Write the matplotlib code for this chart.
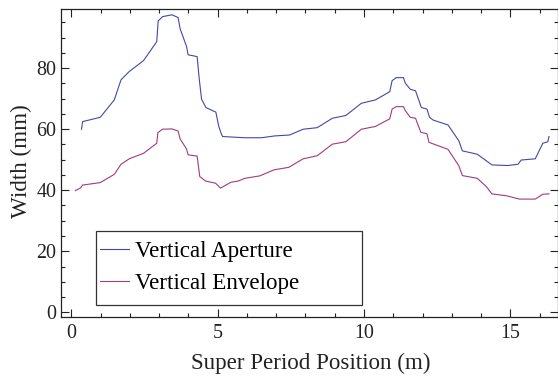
import matplotlib
matplotlib.use("Agg")
import matplotlib.pyplot as plt
from matplotlib.ticker import MultipleLocator
from matplotlib.patches import Rectangle

plt.rcParams['font.family'] = ['Liberation Serif', 'DejaVu Serif']

# Vertical aperture (mm) vs super period position (m)
ap_x = [0.35, 0.39, 0.99, 1.47, 1.70, 1.98, 2.47, 2.92, 2.97, 3.12, 3.44, 3.65, 3.72,
        3.94, 3.99, 4.30, 4.37, 4.45, 4.60, 4.94, 5.04, 5.13, 5.17, 5.93, 6.50, 6.95,
        7.46, 7.92, 8.40, 8.92, 9.38, 9.91, 10.39, 10.88, 10.96, 11.10, 11.35, 11.41,
        11.58, 11.76, 11.96, 12.15, 12.24, 12.36, 12.87, 13.24, 13.36, 13.87, 14.37,
        14.91, 15.26, 15.37, 15.85, 16.11, 16.28, 16.32]
ap_y = [60.0, 62.5, 63.9, 69.6, 76.2, 78.9, 82.5, 88.7, 95.5, 96.9, 97.5, 96.6, 92.9,
        87.1, 84.4, 83.8, 76.7, 69.9, 67.1, 65.6, 60.9, 58.4, 57.6, 57.2, 57.2, 57.8,
        58.1, 60.0, 60.5, 63.6, 64.5, 68.5, 69.6, 72.3, 75.9, 76.9, 76.9, 75.1,
        73.1, 72.6, 67.1, 66.6, 63.9, 63.0, 61.4, 56.2, 52.9, 51.8, 48.3,
        48.1, 48.5, 49.9, 50.3, 55.4, 55.9, 57.6]

# Vertical envelope (mm)
env_x = [0.14, 0.31, 0.39, 0.99, 1.47, 1.70, 1.98, 2.47, 2.92, 2.96, 3.12, 3.44, 3.65,
         3.72, 3.94, 3.99, 4.30, 4.39, 4.59, 4.93, 5.10, 5.45, 5.70, 5.93, 6.44, 6.93,
         7.43, 7.92, 8.40, 8.92, 9.38, 9.91, 10.39, 10.88, 10.96, 11.10, 11.35, 11.41,
         11.58, 11.76, 11.94, 12.15, 12.22, 12.36, 12.87, 13.24, 13.36, 13.87, 14.18,
         14.37, 14.86, 15.31, 15.85, 16.11, 16.32]
env_y = [39.9, 40.7, 41.7, 42.5, 45.2, 48.5, 50.3, 52.1, 55.4, 58.9, 60.0, 60.1, 59.4,
         56.8, 53.5, 51.6, 51.2, 44.5, 43.0, 42.3, 40.7, 42.6, 43.0, 43.9, 44.7, 46.7,
         47.5, 50.3, 51.3, 55.1, 55.9, 60.0, 60.9, 63.4, 66.6, 67.4, 67.4, 66.1,
         63.9, 63.6, 59.0, 58.5, 55.7, 55.2, 53.4, 48.0, 44.8, 43.9, 41.2,
         38.8, 38.2, 37.1, 37.1, 38.7, 38.8]

labels = ["Vertical Aperture", "Vertical Envelope"]

W, H = 558, 380
fig = plt.figure(figsize=(W / 100, H / 100), dpi=100)
L, R, T, B = 61, 557.5, 9, 316.7
ax = fig.add_axes([L / W, 1 - B / H, (R - L) / W, (B - T) / H])

ax.plot(ap_x, ap_y, color='#4049a8', lw=0.8, label=labels[0])
ax.plot(env_x, env_y, color='#a03c78', lw=0.8, label=labels[1])

ax.set_xlim(-0.35, 16.61)
ax.set_ylim(-1.45, 99.4)

ax.xaxis.set_major_locator(MultipleLocator(5))
ax.xaxis.set_minor_locator(MultipleLocator(1))
ax.yaxis.set_major_locator(MultipleLocator(20))
ax.yaxis.set_minor_locator(MultipleLocator(5))
ax.tick_params(which='both', direction='in', top=True, right=True, width=0.8,
               labelsize=14.4, colors='#222222')
ax.tick_params(which='major', length=6)
ax.tick_params(which='minor', length=3)
ax.tick_params(axis='x', which='major', pad=5.5)
for s in ax.spines.values():
    s.set_linewidth(0.9)
    s.set_color('#222222')

ax.set_xlabel("Super Period Position (m)", fontsize=16.6, color='#222222')
ax.set_ylabel("Width (mm)", fontsize=16.6, color='#222222')
ax.xaxis.set_label_coords((311 - L) / (R - L), -(353 - B) / (B - T))
ax.yaxis.set_label_coords(-(L - 32) / (R - L), (B - 161.5) / (B - T))

# Legend frame (drawn in figure pixel coords) with slight shadow
bx0, bx1, by0, by1 = 95.5, 362, 231, 305
shadow = Rectangle((bx0 + 1.2, H - by1 - 1.2), bx1 - bx0, by1 - by0, transform=None,
                   facecolor='#a8a8a8', edgecolor='none', zorder=4)
frame = Rectangle((bx0, H - by1), bx1 - bx0, by1 - by0, transform=None,
                  facecolor='white', edgecolor='#333333', lw=0.9, zorder=4.5)
fig.patches.extend([shadow, frame])

leg = fig.legend(loc='center left', bbox_to_anchor=(100 / W, 1 - 267.5 / H),
                 fontsize=16.6, frameon=False,
                 handlelength=1.27, handletextpad=0.26, borderpad=0,
                 labelspacing=0.46, borderaxespad=0)
leg.set_zorder(5)

fig.savefig("out.png", dpi=100)
